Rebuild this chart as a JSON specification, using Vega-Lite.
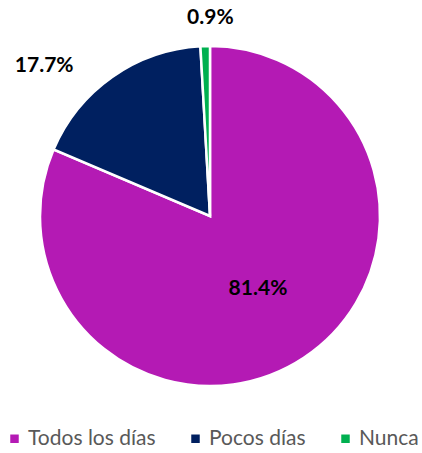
{
  "$schema": "https://vega.github.io/schema/vega-lite/v6.json",
  "width": 420,
  "height": 424,
  "padding": {"top": 4, "left": 0, "right": 2, "bottom": 0},
  "background": "white",
  "data": {"values": [
    {"cat": "Todos los días", "value": 81.4, "label": "81.4%", "ord": 1},
    {"cat": "Pocos días", "value": 17.7, "label": "17.7%", "ord": 2},
    {"cat": "Nunca", "value": 0.9, "label": "0.9%", "ord": 3}
  ]},
  "encoding": {
    "theta": {"field": "value", "type": "quantitative", "stack": true},
    "order": {"field": "ord", "type": "quantitative"}
  },
  "layer": [
    {
      "mark": {"type": "arc", "outerRadius": 170, "stroke": "white", "strokeWidth": 2.5},
      "encoding": {
        "color": {
          "field": "cat", "type": "nominal",
          "scale": {"domain": ["Todos los días", "Pocos días", "Nunca"], "range": ["#B41AB4", "#002060", "#00B050"]},
          "sort": null,
          "legend": {
            "orient": "bottom", "direction": "horizontal", "title": null, "offset": 0,
            "symbolType": "square", "symbolSize": 72, "symbolStrokeWidth": 0, "symbolOffset": 4,
            "labelFont": "Lato", "labelFontSize": 21, "labelColor": "#595959",
            "columnPadding": 25, "labelOffset": 3, "padding": 0
          }
        }
      }
    },
    {
      "mark": {"type": "text", "radius": 87, "font": "Lato", "fontWeight": "bold", "fontSize": 21, "color": "black"},
      "encoding": {"text": {"condition": {"test": "datum.ord == 1", "field": "label"}, "value": ""}}
    },
    {
      "mark": {"type": "text", "radius": 198, "dx": 6, "font": "Lato", "fontWeight": "bold", "fontSize": 21, "color": "black"},
      "encoding": {"text": {"condition": {"test": "datum.ord == 3", "field": "label"}, "value": ""}}
    },
    {
      "mark": {"type": "text", "radius": 224, "dx": -37, "dy": 33, "font": "Lato", "fontWeight": "bold", "fontSize": 21, "color": "black"},
      "encoding": {"text": {"condition": {"test": "datum.ord == 2", "field": "label"}, "value": ""}}
    }
  ],
  "config": {"view": {"stroke": null}}
}
